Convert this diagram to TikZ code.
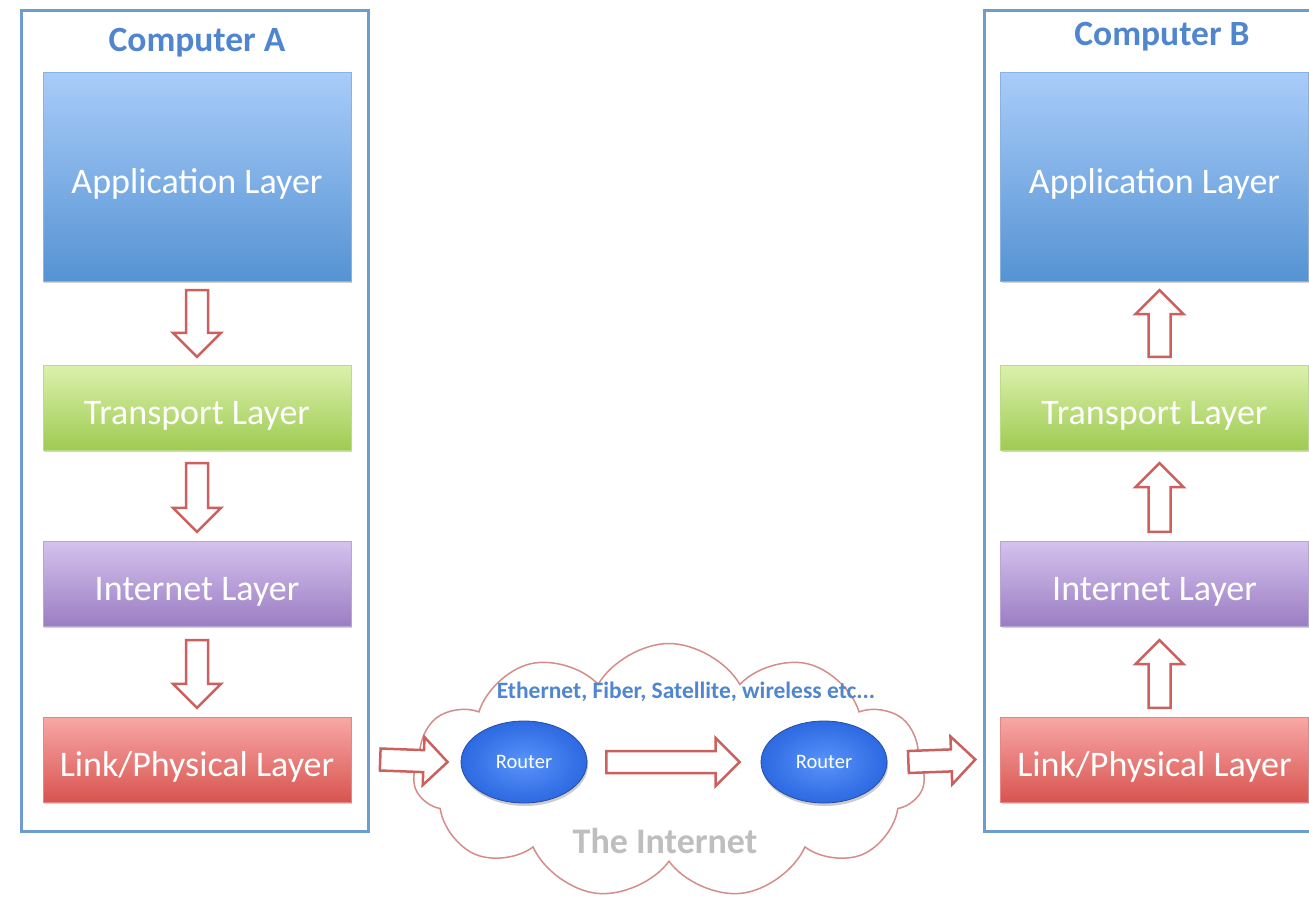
\documentclass[tikz,border=0pt]{standalone}
\usepackage{fontspec}
\setmainfont{Carlito}
\usepackage{tikz}
\usetikzlibrary{arrows.meta,calc,positioning,shapes.geometric,shapes.symbols,shadows}
\definecolor{frameblue}{RGB}{110,155,208}
\definecolor{titleblue}{RGB}{79,134,207}
\definecolor{arrowred}{RGB}{204,96,93}
\definecolor{cloudred}{RGB}{212,141,139}
\definecolor{apptop}{RGB}{169,204,249}
\definecolor{appbot}{RGB}{85,147,211}
\definecolor{trtop}{RGB}{220,241,172}
\definecolor{trbot}{RGB}{158,203,82}
\definecolor{intop}{RGB}{213,194,237}
\definecolor{inbot}{RGB}{155,126,195}
\definecolor{lktop}{RGB}{248,168,166}
\definecolor{lkbot}{RGB}{216,84,80}
\definecolor{routerin}{RGB}{88,148,250}
\definecolor{routerout}{RGB}{45,105,225}
\definecolor{routerrim}{RGB}{38,78,160}
\definecolor{netgray}{RGB}{190,190,190}
\tikzset{
  layer/.style={minimum width=308,text=white,font=\fontsize{36}{40}\selectfont,text height=33pt,text depth=0pt,
    drop shadow={shadow xshift=1pt,shadow yshift=-2pt,opacity=0.35}},
  frame/.style={draw=frameblue,line width=3pt},
  title/.style={text=titleblue,font=\fontsize{35.5}{40}\selectfont\bfseries},
  router/.style={ellipse,minimum width=126,minimum height=82,inner color=routerin,outer color=routerout,
    draw=routerrim,line width=0.8pt,text=white,font=\fontsize{20.5}{24}\selectfont,
    drop shadow={shadow xshift=1pt,shadow yshift=-3pt,opacity=0.4}},
  fatarrow/.style={draw=arrowred,fill=white,line width=2.5pt,line join=miter,to path={
    ($(\tikztostart)!11pt!90:(\tikztotarget)$)
    -- ($(\tikztotarget)!24pt!(\tikztostart)!11pt!90:(\tikztotarget)$)
    -- ($(\tikztotarget)!24pt!(\tikztostart)!24pt!90:(\tikztotarget)$)
    -- (\tikztotarget)
    -- ($(\tikztotarget)!24pt!(\tikztostart)!24pt!-90:(\tikztotarget)$)
    -- ($(\tikztotarget)!24pt!(\tikztostart)!11pt!-90:(\tikztotarget)$)
    -- ($(\tikztostart)!11pt!-90:(\tikztotarget)$) -- cycle}}
}
\begin{document}
\begin{tikzpicture}[x=1pt,y=-1pt]
  \useasboundingbox[fill=white] (0,0) rectangle (1309,902);
  \draw[frame] (21,10) rectangle (368,831);
  \draw[frame] (984,10) rectangle (1340,831);
  \node[title] (titleA) at (197,43) {Computer A};
  \node[title] (titleB) at (1162,37) {Computer B};

  \node[layer,minimum height=209,top color=apptop,bottom color=appbot,draw=appbot!70!white] (appA) at (197,176.5) {Application Layer};
  \node[layer,minimum height=85,top color=trtop,bottom color=trbot,draw=trbot!70!white] (trA) at (197,407.5) {Transport Layer};
  \node[layer,minimum height=85,top color=intop,bottom color=inbot,draw=inbot!70!white] (inA) at (197,583.5) {Internet Layer};
  \node[layer,minimum height=85,top color=lktop,bottom color=lkbot,draw=lkbot!70!white] (lkA) at (197,759.5) {Link/Physical Layer};

  \node[layer,minimum height=209,top color=apptop,bottom color=appbot,draw=appbot!70!white] (appB) at (1154.5,176.5) {Application Layer};
  \node[layer,minimum height=85,top color=trtop,bottom color=trbot,draw=trbot!70!white] (trB) at (1154.5,407.5) {Transport Layer};
  \node[layer,minimum height=85,top color=intop,bottom color=inbot,draw=inbot!70!white] (inB) at (1154.5,583.5) {Internet Layer};
  \node[layer,minimum height=85,top color=lktop,bottom color=lkbot,draw=lkbot!70!white] (lkB) at (1154.5,759.5) {Link/Physical Layer};

  \node[cloud,draw=cloudred,fill=white,line width=1.5pt,cloud puffs=11,cloud puff arc=120,aspect=2.1,
    minimum width=512,minimum height=255] (net) at (669,771) {};
  \node[text=titleblue,font=\fontsize{23.5}{26}\selectfont\bfseries] (media) at (686,692) {Ethernet, Fiber, Satellite, wireless etc...};
  \node[text=netgray,font=\fontsize{36}{40}\selectfont\bfseries] (netlabel) at (665,841) {The Internet};
  \node[router] (r1) at (524,762) {Router};
  \node[router] (r2) at (824,762) {Router};

  \draw[fatarrow] ([yshift=-9pt]appA.south) to ([yshift=8pt]trA.north);
  \draw[fatarrow] ([yshift=-13pt]trA.south) to ([yshift=9pt]inA.north);
  \draw[fatarrow] ([yshift=-14pt]inA.south) to ([yshift=9pt]lkA.north);

  \draw[fatarrow] ([xshift=29pt]lkA.east) to ([xshift=-13pt]r1.west);
  \draw[fatarrow] ([xshift=19pt]r1.east) to ([xshift=-21pt]r2.west);
  \draw[fatarrow] ([xshift=21pt]r2.east) to ([xshift=-25pt]lkB.west);

  \draw[fatarrow] ([xshift=5pt,yshift=9pt]lkB.north) to ([xshift=5pt,yshift=-14pt]inB.south);
  \draw[fatarrow] ([xshift=5pt,yshift=9pt]inB.north) to ([xshift=5pt,yshift=-13pt]trB.south);
  \draw[fatarrow] ([xshift=5pt,yshift=8pt]trB.north) to ([xshift=5pt,yshift=-9pt]appB.south);
\end{tikzpicture}
\end{document}
